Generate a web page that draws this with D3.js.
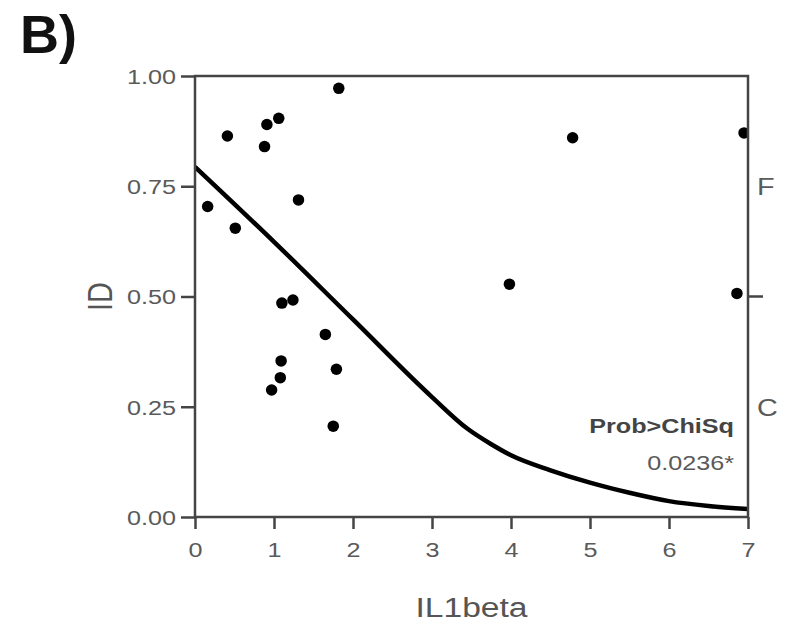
<!DOCTYPE html>
<html>
<head>
<meta charset="utf-8">
<script src="https://cdn.jsdelivr.net/npm/d3@7"></script>
<style>
  body { margin: 0; background: #fff; }
  svg { display: block; }
</style>
</head>
<body>
<svg id="chart" width="785" height="625"></svg>
<script>
// Observations: IL1beta level and ID response
const il1beta = [1.82, 0.41, 0.91, 1.06, 0.88, 0.16, 0.51, 1.31, 1.10, 1.24,
                 1.65, 1.09, 1.08, 0.97, 1.79, 1.75, 4.78, 6.95, 3.98, 6.86];
const idValue = [0.972, 0.864, 0.890, 0.904, 0.840, 0.704, 0.655, 0.719, 0.485, 0.492,
                 0.414, 0.354, 0.316, 0.288, 0.335, 0.206, 0.860, 0.871, 0.528, 0.507];

// Logistic fit curve (probability of the lower level)
const fitX = [0, 1, 2, 3, 3.45, 3.75, 4, 4.5, 5, 5.5, 6, 6.5, 7];
const fitP = [0.794, 0.624, 0.448, 0.272, 0.200, 0.165, 0.140, 0.106, 0.078, 0.055, 0.036, 0.025, 0.018];

// Axis ticks
const xTickValues = [0, 1, 2, 3, 4, 5, 6, 7];
const yTickValues = [0, 0.25, 0.5, 0.75, 1.0];

// Right-hand response levels and the boundary between them
const levelNames = ["F", "C"];
const levelCenters = [0.75, 0.25];
const levelBoundaries = [0.5];

const testTitle = "Prob>ChiSq";
const testValue = "0.0236*";
const panelLabel = "B)";
const xTitle = "IL1beta";
const yTitle = "ID";

const svg = d3.select("#chart");
const FONT = "'Liberation Sans', Arial, Helvetica, sans-serif";
const SX = 1.2;           // horizontal stretch applied to text
const AXIS = "#444";
const LABEL = "#5a5a5a";

const plotLeft = 195, plotRight = 748, plotTop = 76, plotBottom = 517;
const x = d3.scaleLinear().domain([0, 7]).range([plotLeft, plotRight]);
const y = d3.scaleLinear().domain([0, 1]).range([plotBottom, plotTop]);

svg.append("defs").append("clipPath").attr("id", "plotClip")
  .append("rect").attr("x", plotLeft).attr("y", plotTop)
  .attr("width", plotRight - plotLeft).attr("height", plotBottom - plotTop);

// Panel label
svg.append("text")
  .attr("x", 20).attr("y", 53)
  .attr("font-family", FONT).attr("font-weight", "bold")
  .attr("font-size", 54).attr("fill", "#111")
  .text(panelLabel);

// Left axis
const gy = svg.append("g").attr("transform", `translate(${plotLeft},0)`)
  .call(d3.axisLeft(y).tickValues(yTickValues).tickFormat(d3.format(".2f"))
    .tickSize(14).tickSizeOuter(0));
gy.select(".domain").remove();
gy.selectAll(".tick line").attr("stroke", AXIS).attr("stroke-width", 2.5);
gy.selectAll(".tick text")
  .attr("x", null).attr("dy", "0.35em")
  .attr("transform", `translate(-19,0) scale(${SX},1)`)
  .attr("text-anchor", "end")
  .attr("font-family", FONT).attr("font-size", 21).attr("fill", LABEL);

// Bottom axis
const gx = svg.append("g").attr("transform", `translate(0,${plotBottom})`)
  .call(d3.axisBottom(x).tickValues(xTickValues).tickFormat(d3.format("d"))
    .tickSize(12).tickSizeOuter(0));
gx.select(".domain").remove();
gx.selectAll(".tick line").attr("stroke", AXIS).attr("stroke-width", 2.5);
gx.selectAll(".tick text")
  .attr("y", null).attr("dy", null)
  .attr("transform", `translate(0,40) scale(${SX},1)`)
  .attr("text-anchor", "middle")
  .attr("font-family", FONT).attr("font-size", 21).attr("fill", LABEL);

// Right-side level boundary ticks and level names
svg.selectAll("line.level-tick").data(levelBoundaries).join("line")
  .attr("class", "level-tick")
  .attr("x1", plotRight).attr("x2", plotRight + 15)
  .attr("y1", d => y(d)).attr("y2", d => y(d))
  .attr("stroke", AXIS).attr("stroke-width", 2.5);

svg.selectAll("text.level-name").data(levelNames).join("text")
  .attr("class", "level-name")
  .attr("transform", (d, i) => `translate(${plotRight + 9},${y(levelCenters[i]) + 9}) scale(${SX},1)`)
  .attr("font-family", FONT).attr("font-size", 24).attr("fill", LABEL)
  .text(d => d);

// Fitted curve
const line = d3.line().curve(d3.curveMonotoneX).x(d => x(d[0])).y(d => y(d[1]));
svg.append("path")
  .datum(fitX.map((v, i) => [v, fitP[i]]))
  .attr("clip-path", "url(#plotClip)")
  .attr("d", line)
  .attr("fill", "none").attr("stroke", "#000")
  .attr("stroke-width", 4.5).attr("stroke-linejoin", "round");

// Observations
svg.append("g").attr("clip-path", "url(#plotClip)")
  .selectAll("circle").data(il1beta).join("circle")
  .attr("cx", d => x(d))
  .attr("cy", (d, i) => y(idValue[i]))
  .attr("r", 5.75).attr("fill", "#000");

// Frame
svg.append("rect")
  .attr("x", plotLeft).attr("y", plotTop)
  .attr("width", plotRight - plotLeft).attr("height", plotBottom - plotTop)
  .attr("fill", "none").attr("stroke", AXIS).attr("stroke-width", 2.5);

// Test result annotation
svg.append("text")
  .attr("transform", `translate(734,433) scale(${SX},1)`)
  .attr("text-anchor", "end")
  .attr("font-family", FONT).attr("font-weight", "bold")
  .attr("font-size", 21).attr("fill", "#444")
  .text(testTitle);
svg.append("text")
  .attr("transform", `translate(734,470) scale(${SX},1)`)
  .attr("text-anchor", "end")
  .attr("font-family", FONT).attr("font-size", 21).attr("fill", LABEL)
  .text(testValue);

// Axis titles
svg.append("text")
  .attr("transform", `translate(${(plotLeft + plotRight) / 2},617) scale(${SX},1)`)
  .attr("text-anchor", "middle")
  .attr("font-family", FONT).attr("font-size", 28).attr("fill", "#555")
  .text(xTitle);
svg.append("text")
  .attr("transform", `translate(112,${(plotTop + plotBottom) / 2}) scale(${SX},1) rotate(-90)`)
  .attr("text-anchor", "middle")
  .attr("font-family", FONT).attr("font-size", 29).attr("fill", "#555")
  .text(yTitle);
</script>
</body>
</html>
